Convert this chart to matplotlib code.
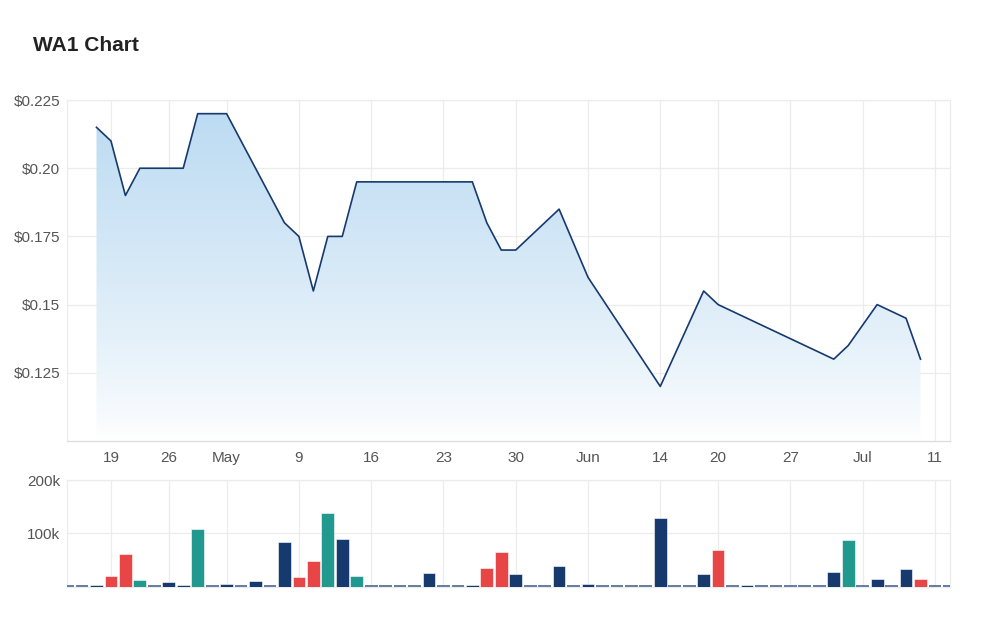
import matplotlib.pyplot as plt
import numpy as np
import pandas as pd
from matplotlib.patches import Polygon

plt.rcParams['font.family'] = ['Liberation Sans', 'DejaVu Sans']

# ASX trading days (2022), market holidays removed
holidays = ['2022-04-15', '2022-04-18', '2022-04-25', '2022-06-13']
days = pd.bdate_range('2022-04-12', '2022-07-12', freq='C', holidays=holidays)

# closing price, None = no trade that day (Apr 12 .. Jul 12)
price = [None, None,
         0.215, 0.21, 0.19, 0.20, None, 0.20, 0.20, 0.22, None, 0.22,
         None, 0.20, None, 0.18, 0.175, 0.155, 0.175, 0.175, 0.195, None,
         None, None, None, 0.195, None, None, 0.195, 0.18, 0.17, 0.17,
         None, None, 0.185, None, 0.16, None, None, None, None, 0.12,
         None, None, 0.155, 0.15, None, 0.145, None, None, None, None,
         None, 0.13, 0.135, None, 0.15, None, 0.145, 0.13,
         None, None]

# volume in thousands
volume = [0, 0,
          3, 21, 61, 13, 0, 9, 3, 109, 0, 5,
          0, 11, 0, 84, 19, 49, 139, 89, 21, 0,
          0, 0, 0, 25, 0, 0, 3, 35, 65, 23,
          0, 0, 39, 0, 6, 0, 0, 0, 0, 129,
          0, 0, 23, 69, 0, 3, 0, 0, 0, 0,
          0, 27, 88, 0, 15, 0, 33, 15,
          0, 0]

tick_dates = ['2022-04-19', '2022-04-26', '2022-05-02', '2022-05-09', '2022-05-16',
              '2022-05-23', '2022-05-30', '2022-06-06', '2022-06-14', '2022-06-20',
              '2022-06-27', '2022-07-04', '2022-07-11']
tick_labels = ['19', '26', 'May', '9', '16', '23', '30', 'Jun', '14', '20', '27', 'Jul', '11']

price_ticks = [0.125, 0.15, 0.175, 0.20, 0.225]
price_labels = ['$0.125', '$0.15', '$0.175', '$0.20', '$0.225']

navy = '#163a6e'
red = '#e84646'
teal = '#21998f'
grid_c = '#ececec'
text_c = '#555555'

x = np.arange(len(days)) - 2
pos = {d: i for d, i in zip(days.strftime('%Y-%m-%d'), x)}
tick_x = [pos[d] for d in tick_dates]

traded = [i for i, p in enumerate(price) if p is not None]
px = x[traded]
py = np.array([price[i] for i in traded])

# bar colours: up = teal, down = red, otherwise navy
colors = []
for i in range(len(price)):
    prev = price[i - 1] if i > 0 else None
    if price[i] is None or prev is None or price[i] == prev:
        colors.append(navy)
    elif price[i] > prev:
        colors.append(teal)
    else:
        colors.append(red)

fig = plt.figure(figsize=(10, 6.21), dpi=100)
ax = fig.add_axes([0.067, 0.2899, 0.883, 0.549])
axv = fig.add_axes([0.067, 0.0552, 0.883, 0.1718], sharex=ax)

xlo, xhi = -2.04, 59.04

# price area with vertical gradient
ymin, ymax = 0.100, 0.225
grad = np.linspace(0, 1, 256).reshape(-1, 1)
rgba = np.zeros((256, 1, 4))
top = np.array([0.74, 0.86, 0.95])
bot = np.array([1.0, 1.0, 1.0])
rgba[..., :3] = bot + (top - bot) * grad[..., None] ** 0.8
rgba[..., 3] = 1
img = ax.imshow(rgba, extent=[xlo, xhi, ymin, 0.22], origin='lower',
                aspect='auto', zorder=1)
verts = np.vstack([[px[0], ymin], np.column_stack([px, py]), [px[-1], ymin]])
poly = Polygon(verts, closed=True, facecolor='none', edgecolor='none')
ax.add_patch(poly)
img.set_clip_path(poly)
ax.plot(px, py, color=navy, lw=1.2, zorder=3)

ax.set_xlim(xlo, xhi)
ax.set_ylim(ymin, ymax)
ax.set_yticks(price_ticks)
ax.set_yticklabels(price_labels)
ax.set_xticks(tick_x)
ax.set_xticklabels(tick_labels)

# volume bars
vx = np.array(x)
vol = np.array(volume) * 1000
for xi, v, c in zip(vx, vol, colors):
    if v > 0:
        axv.bar(xi, v, width=0.88, color=c, edgecolor='white', linewidth=0.4, zorder=3)
    else:
        axv.hlines(1000, xi - 0.44, xi + 0.44, color='#3a5a8c', lw=1.1, zorder=3)
axv.set_ylim(0, 200000)
axv.set_yticks([100000, 200000])
axv.set_yticklabels(['100k', '200k'])
plt.setp(axv.get_xticklabels(), visible=False)

for a in (ax, axv):
    a.grid(True, color=grid_c, lw=0.9, zorder=0)
    a.set_axisbelow(True)
    for s in a.spines.values():
        s.set_color(grid_c)
        s.set_linewidth(0.9)
    a.tick_params(length=0, colors=text_c, labelsize=11)
    a.tick_params(axis='y', pad=5)
ax.spines['bottom'].set_color('#dcdcdc')
ax.tick_params(axis='x', pad=7)

fig.text(0.033, 0.927, 'WA1 Chart', fontsize=15, fontweight='bold',
         color='#222222', va='center')

fig.savefig('out.png', dpi=100, facecolor='white')
